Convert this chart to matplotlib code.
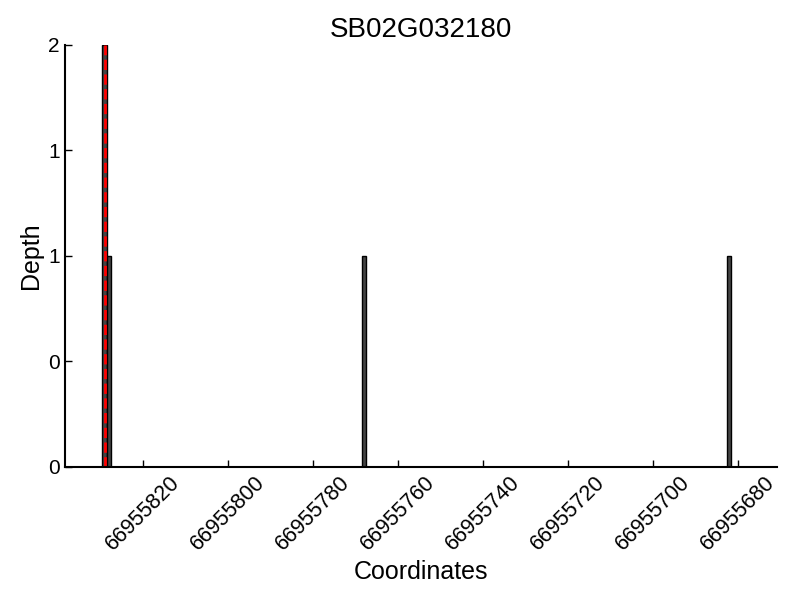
import matplotlib
matplotlib.use("Agg")
import matplotlib.pyplot as plt
from matplotlib.ticker import FormatStrFormatter

plt.rcParams['font.family'] = ['Liberation Sans', 'DejaVu Sans']

title = "SB02G032180"
positions = [66955829, 66955828, 66955768, 66955682]
depths = [2, 1, 1, 1]
marker_pos = 66955829
xticks = [66955820, 66955800, 66955780, 66955760, 66955740, 66955720, 66955700, 66955680]
yticks = [0, 0.5, 1, 1.5, 2]

fig = plt.figure(figsize=(8, 6), dpi=100)
ax = fig.add_axes([0.081, 0.2217, 0.89, 0.7033])
ax.bar(positions, depths, width=1, color='#444444', edgecolor='black', linewidth=1)
ax.axvline(marker_pos, color='red', linestyle='--', linewidth=2)
ax.set_xlim(66955838.35, 66955670.8)
ax.set_ylim(0, 2)
ax.set_xticks(xticks)
ax.set_xticklabels([str(v) for v in xticks], rotation=45, fontsize=15.5)
ax.set_yticks(yticks)
ax.yaxis.set_major_formatter(FormatStrFormatter('%d'))
ax.tick_params(axis='y', labelsize=15)
ax.tick_params(direction='in', length=5, width=1)
ax.spines['top'].set_visible(False)
ax.spines['right'].set_visible(False)
ax.spines['left'].set_linewidth(1.5)
ax.spines['bottom'].set_linewidth(1.5)
ax.set_xlabel("Coordinates", fontsize=18)
ax.set_ylabel("Depth", fontsize=18)
ax.set_title(title, fontsize=20)
fig.savefig("out.png", dpi=100)
